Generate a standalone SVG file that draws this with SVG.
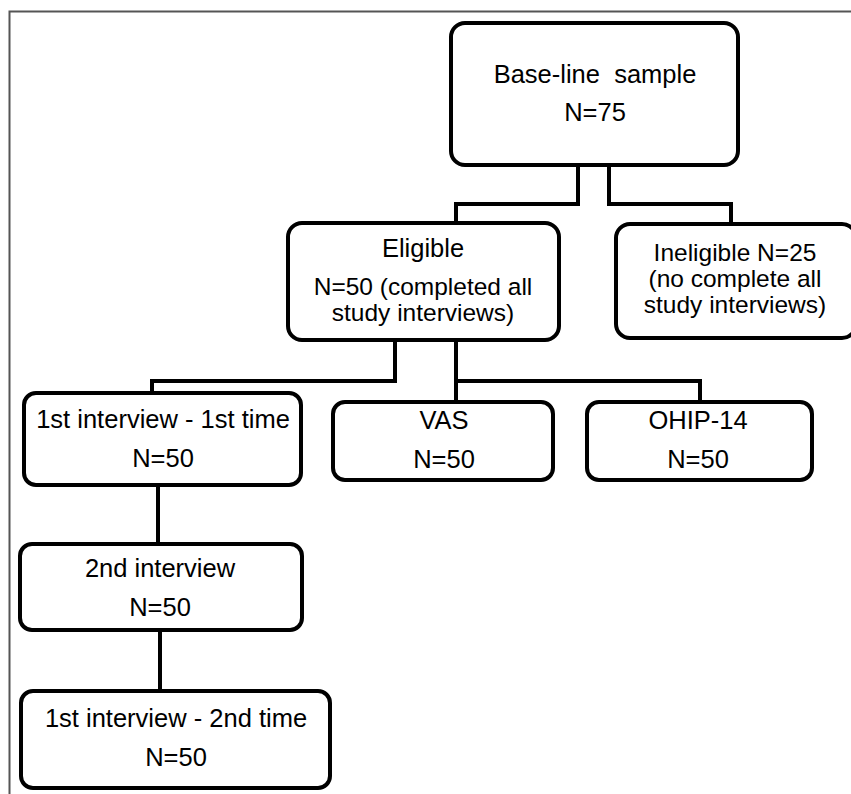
<svg xmlns="http://www.w3.org/2000/svg" width="851" height="794" viewBox="0 0 851 794">
<style>
.box{fill:#fff;stroke:#000;stroke-width:4}
.con{fill:none;stroke:#000;stroke-width:4;stroke-linejoin:miter}
text{font-family:"Liberation Sans",Arial,sans-serif;font-size:25.5px;fill:#000;text-anchor:middle}
.tight{font-size:24.5px}
</style>
<rect width="851" height="794" fill="#fff"/>
<path d="M9.5,794 V11.5 H851" fill="none" stroke="#555" stroke-width="2"/>
<g id="connectors">
<path class="con" d="M578,165 V204 H456 V223"/>
<path class="con" d="M609,165 V204 H731 V224"/>
<path class="con" d="M395,340 V381 H152 V393"/>
<path class="con" d="M456,340 V402"/>
<path class="con" d="M456,381 H700 V402"/>
<path class="con" d="M158,485 V544"/>
<path class="con" d="M160,630 V691"/>
</g>
<g id="baseline">
<rect class="box" x="451" y="23" width="287" height="142" rx="14"/>
<text x="595" y="83" xml:space="preserve">Base-line  sample</text>
<text x="595" y="121">N=75</text>
</g>
<g id="eligible">
<rect class="box" x="288" y="223" width="271" height="117" rx="14"/>
<text x="423" y="257">Eligible</text>
<text class="tight" x="423" y="295">N=50 (completed all</text>
<text class="tight" x="423" y="321">study interviews)</text>
</g>
<g id="ineligible">
<rect class="box" x="616" y="224" width="240" height="114" rx="14"/>
<text class="tight" x="735" y="261">Ineligible N=25</text>
<text class="tight" x="735" y="287">(no complete all</text>
<text class="tight" x="735" y="313">study interviews)</text>
</g>
<g id="first1">
<rect class="box" x="24" y="393" width="277" height="92" rx="12"/>
<text x="163" y="428">1st interview - 1st time</text>
<text x="163" y="467">N=50</text>
</g>
<g id="vas">
<rect class="box" x="333" y="402" width="220" height="78" rx="12"/>
<text x="444" y="429">VAS</text>
<text x="444" y="468">N=50</text>
</g>
<g id="ohip">
<rect class="box" x="587" y="402" width="225" height="78" rx="12"/>
<text x="698" y="429">OHIP-14</text>
<text x="698" y="468">N=50</text>
</g>
<g id="second">
<rect class="box" x="20" y="544" width="282" height="86" rx="12"/>
<text x="160" y="577">2nd interview</text>
<text x="160" y="616">N=50</text>
</g>
<g id="first2">
<rect class="box" x="21" y="691" width="309" height="97" rx="12"/>
<text x="176" y="727">1st interview - 2nd time</text>
<text x="176" y="766">N=50</text>
</g>
</svg>
